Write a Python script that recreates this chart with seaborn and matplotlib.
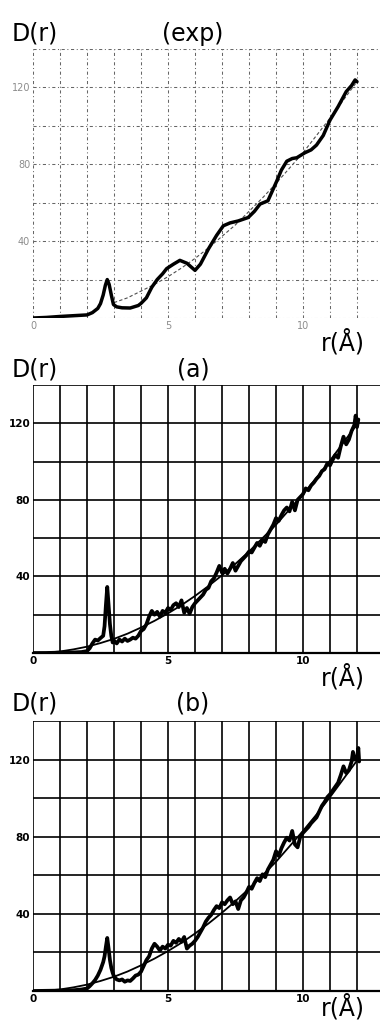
import numpy as np
import pandas as pd
import matplotlib
matplotlib.use("Agg")
import matplotlib.pyplot as plt
import seaborn as sns

# ---------------- data ----------------
exp_r = [0.0, 0.5, 1.0, 1.5, 2.0, 2.2, 2.4, 2.5, 2.6, 2.68, 2.75, 2.82, 2.9, 2.98, 3.1, 3.3,
         3.6, 3.9, 4.0, 4.2, 4.4, 4.6, 4.8, 4.95, 5.2, 5.44, 5.7, 6.0, 6.2, 6.5, 6.8, 7.05,
         7.3, 7.6, 7.97, 8.2, 8.41, 8.7, 9.02, 9.2, 9.4, 9.6, 9.77, 10.07, 10.3, 10.5,
         10.75, 11.0, 11.3, 11.6, 11.8, 11.93, 12.0]
exp_D = [0.0, 0.3, 0.8, 1.2, 1.6, 2.8, 5.0, 7.5, 12.0, 17.0, 20.0, 17.5, 12.0, 7.0, 5.8, 5.3,
         5.2, 6.5, 7.6, 10.5, 16.0, 20.0, 23.0, 25.7, 28.0, 30.0, 28.5, 24.8, 28.0, 36.0, 43.0, 48.0,
         49.5, 50.5, 52.3, 55.5, 59.3, 61.0, 71.0, 77.0, 81.6, 83.0, 83.4, 86.0, 87.5, 90.0,
         95.0, 103.0, 110.0, 117.8, 121.0, 123.9, 123.0]

exp_ref_r = [3.0, 3.5, 4.0, 4.5, 5.0, 5.5, 6.0, 6.5, 7.0, 7.5, 8.0, 8.5, 9.0, 9.5, 10.0,
             10.5, 11.0, 11.5, 12.0]
exp_ref_D = [8.0, 10.5, 14.0, 17.5, 21.5, 26.0, 31.0, 36.5, 42.5, 48.5, 55.5, 62.5, 70.0,
             78.0, 86.0, 95.0, 104.0, 113.5, 123.0]

smooth_r = [0.0, 0.5, 1.0, 1.5, 2.0, 2.5, 3.0, 3.5, 4.0, 4.5, 5.0, 5.5, 6.0, 6.5, 7.0, 7.5,
            8.0, 8.5, 9.0, 9.5, 10.0, 10.5, 11.0, 11.5, 12.0]
smooth_D = [0.0, 0.2, 0.8, 1.9, 3.3, 5.2, 7.4, 10.1, 13.3, 16.8, 20.7, 25.0, 29.8, 35.0,
            40.6, 46.6, 53.0, 60.0, 67.0, 75.0, 83.0, 91.5, 100.5, 110.0, 119.5]

a_r = [0.0, 0.5, 1.0, 1.5, 1.8, 2.0, 2.1, 2.2, 2.3, 2.4, 2.5, 2.6, 2.65, 2.7, 2.75, 2.8,
       2.85, 2.9, 2.95, 3.0, 3.1, 3.2, 3.3, 3.4, 3.5, 3.6, 3.7, 3.8, 3.9, 4.0, 4.1, 4.2,
       4.3, 4.4, 4.5, 4.6, 4.7, 4.8, 4.9, 5.0, 5.1, 5.2, 5.3, 5.4, 5.5, 5.6, 5.7, 5.8,
       5.9, 6.0, 6.1, 6.2, 6.3, 6.4, 6.5, 6.6, 6.7, 6.8, 6.9, 7.0, 7.1, 7.2, 7.3, 7.4,
       7.5, 7.6, 7.7, 7.8, 7.9, 8.0, 8.1, 8.2, 8.3, 8.4, 8.5, 8.6, 8.7, 8.8, 8.9, 9.0,
       9.1, 9.2, 9.3, 9.4, 9.5, 9.6, 9.7, 9.8, 9.9, 10.0, 10.1, 10.2, 10.3, 10.4, 10.5,
       10.6, 10.7, 10.8, 10.9, 11.0, 11.1, 11.2, 11.3, 11.4, 11.5, 11.6, 11.7, 11.8,
       11.9, 11.95, 12.0, 12.05]
a_D = [0.0, 0.0, 0.2, 0.3, 0.5, 1.0, 2.5, 5.0, 7.0, 6.5, 7.8, 9.0, 14.0, 25.0, 34.5, 25.0,
       15.0, 9.0, 5.5, 6.5, 5.0, 7.0, 6.0, 7.5, 6.3, 7.0, 8.0, 7.5, 9.0, 11.5, 12.5, 15.0,
       19.0, 22.0, 20.0, 21.5, 19.0, 22.0, 21.0, 23.5, 22.5, 25.0, 26.0, 24.0, 27.5, 21.0, 23.5, 20.5,
       24.0, 26.0, 27.5, 29.0, 30.5, 33.0, 34.0, 37.5, 39.0, 42.0, 45.5, 42.0, 44.0, 41.5, 44.0, 47.0,
       43.0, 45.5, 48.0, 49.5, 51.0, 53.0, 52.5, 55.0, 57.5, 56.0, 59.0, 58.0, 62.0, 64.5, 67.0, 70.5,
       69.0, 72.0, 74.5, 76.0, 74.0, 79.0, 74.5, 80.0, 81.5, 83.0, 86.0, 85.0, 87.5, 89.0, 91.0,
       92.5, 95.0, 96.0, 99.0, 98.0, 101.0, 103.5, 102.0, 108.0, 113.0, 109.0, 111.5, 116.0,
       119.0, 124.0, 118.0, 122.0]

b_r = [0.0, 0.5, 1.0, 1.5, 1.8, 2.0, 2.1, 2.2, 2.3, 2.4, 2.5, 2.6, 2.65, 2.7, 2.75, 2.8,
       2.85, 2.9, 2.95, 3.0, 3.1, 3.2, 3.3, 3.4, 3.5, 3.6, 3.7, 3.8, 3.9, 4.0, 4.1, 4.2,
       4.3, 4.4, 4.5, 4.6, 4.7, 4.8, 4.9, 5.0, 5.1, 5.2, 5.3, 5.4, 5.5, 5.6, 5.7, 5.8,
       5.9, 6.0, 6.1, 6.2, 6.3, 6.4, 6.5, 6.6, 6.7, 6.8, 6.9, 7.0, 7.1, 7.2, 7.3, 7.4,
       7.5, 7.6, 7.7, 7.8, 7.9, 8.0, 8.1, 8.2, 8.3, 8.4, 8.5, 8.6, 8.7, 8.8, 8.9, 9.0,
       9.1, 9.2, 9.3, 9.4, 9.5, 9.6, 9.7, 9.8, 9.9, 10.0, 10.1, 10.2, 10.3, 10.4, 10.5,
       10.6, 10.7, 10.8, 10.9, 11.0, 11.1, 11.2, 11.3, 11.4, 11.5, 11.6, 11.7, 11.8,
       11.85, 11.9, 12.0, 12.05, 12.08]
b_D = [0.0, 0.1, 0.2, 0.4, 0.8, 1.3, 2.5, 4.0, 5.7, 8.0, 11.0, 15.0, 18.0, 23.0, 27.5, 22.0,
       16.0, 12.0, 9.5, 7.5, 6.0, 5.5, 6.0, 4.8, 5.5, 5.2, 6.5, 8.0, 8.5, 10.0, 13.0, 16.0,
       18.0, 22.0, 24.5, 23.0, 21.0, 23.0, 22.0, 24.0, 23.5, 26.0, 25.0, 27.0, 25.5, 28.0, 22.0, 23.5,
       24.5, 26.0, 28.0, 30.5, 33.0, 36.0, 38.0, 39.5, 42.0, 44.0, 43.0, 46.0, 45.0, 47.0, 48.5, 45.0,
       46.5, 42.5, 47.0, 48.5, 51.0, 54.0, 53.0, 56.0, 58.5, 57.0, 60.5, 59.0, 63.0, 65.5, 68.0, 72.5,
       70.0, 74.0, 77.0, 79.5, 78.0, 83.0, 76.0, 74.5, 80.0, 82.0, 83.5, 85.0, 87.0, 88.5, 90.0,
       93.0, 96.0, 98.0, 100.5, 102.0, 104.0, 106.0, 108.0, 112.0, 116.5, 113.0, 114.5, 119.0,
       124.0, 120.0, 121.0, 126.0, 119.0]

x_grid = list(range(0, 13))
y_grid = list(range(0, 141, 20))
x_labels = {0: "0", 5: "5", 10: "10"}
y_labels = {40: "40", 80: "80", 120: "120"}
panel_titles = ["(exp)", "(a)", "(b)"]

# ---------------- figure ----------------
sns.set_style("white")
plt.rcParams["font.family"] = ["DejaVu Sans"]
plt.rcParams["text.color"] = "black"

W, H = 380, 1031
fig = plt.figure(figsize=(W / 100, H / 100), dpi=100)
fig.patch.set_facecolor("white")

def frac_box(left, top, right, bottom):
    return [left / W, 1 - bottom / H, (right - left) / W, (bottom - top) / H]

boxes = [frac_box(33, 49, 380, 318), frac_box(33, 385, 380, 653), frac_box(33, 721, 380, 991)]
xmax = (380 - 33) / 27.0

axes = [fig.add_axes(b) for b in boxes]

for i, ax in enumerate(axes):
    ax.set_xlim(0, xmax)
    ax.set_ylim(0, 140)
    ax.set_xticks(x_grid)
    ax.set_yticks(y_grid)
    ax.set_xticklabels([x_labels.get(v, "") for v in x_grid])
    ax.set_yticklabels([y_labels.get(v, "") for v in y_grid])
    ax.tick_params(length=0, pad=2)
    for s in ax.spines.values():
        s.set_visible(False)

# experimental panel: dotted / dash-dot grid
ax = axes[0]
ax.grid(True, color="0.4", linestyle=(0, (3, 2.5, 1, 2.5)), linewidth=0.75)
ax.tick_params(labelsize=7, labelcolor="0.55")
sns.lineplot(x=exp_ref_r, y=exp_ref_D, ax=ax, color="0.3", linewidth=0.8,
             linestyle=(0, (3, 2)))
sns.lineplot(x=exp_r, y=exp_D, ax=ax, color="black", linewidth=2.5)
ax.set_xlabel("")
ax.set_ylabel("")

# simulated panels: solid grid
for ax, rr, DD in [(axes[1], a_r, a_D), (axes[2], b_r, b_D)]:
    ax.grid(True, color="black", linestyle="-", linewidth=1.2)
    ax.tick_params(labelsize=7.5, labelcolor="black")
    for lab in ax.get_xticklabels() + ax.get_yticklabels():
        lab.set_fontweight("bold")
    sns.lineplot(x=smooth_r, y=smooth_D, ax=ax, color="black", linewidth=1.3)
    sns.lineplot(x=rr, y=DD, ax=ax, color="black", linewidth=2.7)
    ax.spines["bottom"].set_visible(True)
    ax.spines["bottom"].set_color("black")
    ax.spines["bottom"].set_linewidth(1.6)
    ax.set_xlabel("")
    ax.set_ylabel("")

# panel labels
title_y = [34, 369, 704]
xlab_y = [342, 677, 1007]
for i in range(3):
    fig.text(12 / W, 1 - title_y[i] / H, "D(r)", fontsize=17, ha="left", va="center", color="black")
    fig.text(193 / W, 1 - title_y[i] / H, panel_titles[i], fontsize=17, ha="center", va="center",
             color="black")
    fig.text(343 / W, 1 - xlab_y[i] / H, "r(Å)", fontsize=17, ha="center", va="center", color="black")

fig.savefig("out.png", dpi=100, facecolor="white")
